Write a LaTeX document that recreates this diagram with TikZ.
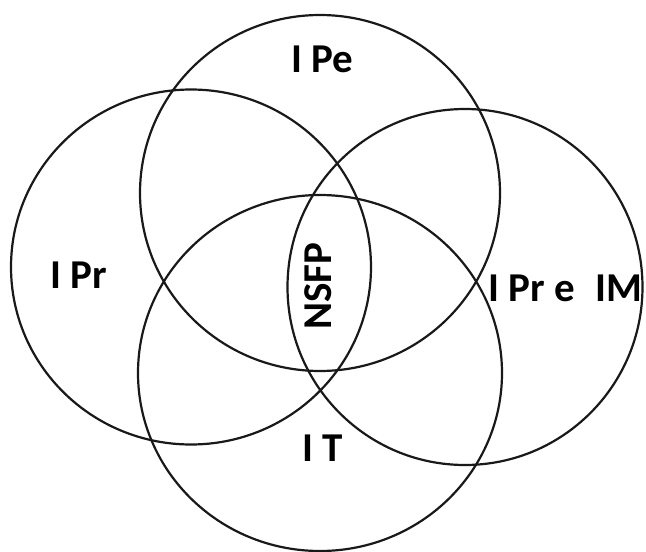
\documentclass[tikz,border=0pt]{standalone}
\usepackage{fontspec}
\setmainfont{Carlito}
\usetikzlibrary{shapes.geometric}
\begin{document}
\begin{tikzpicture}[x=1pt,y=-1pt,
  ring/.style={draw=black!90,line width=2.2pt,ellipse,inner sep=0pt,outer sep=0pt},
  lbl/.style={inner sep=0pt,font=\fontsize{41}{48}\selectfont\bfseries}]
\useasboundingbox (0,0) rectangle (646,552);
\node[ring,minimum width=360pt,minimum height=356pt] (pe) at (320,193) {};
\node[ring,minimum width=360pt,minimum height=355pt] (pr) at (191,267) {};
\node[ring,minimum width=355pt,minimum height=356pt] (im) at (465,287) {};
\node[ring,minimum width=364pt,minimum height=356pt] (it) at (320,373) {};
\node[lbl] (tpe) at (322,59) {I Pe};
\node[lbl] (tpr) at (79,275) {I Pr};
\node[lbl,anchor=west] (tim) at (488,288) {I Pr e\hspace{21pt}IM};
\node[lbl] (tit) at (323,448) {I T};
\node[lbl,rotate=90] (tns) at (318,286) {NSFP};
\end{tikzpicture}
\end{document}
